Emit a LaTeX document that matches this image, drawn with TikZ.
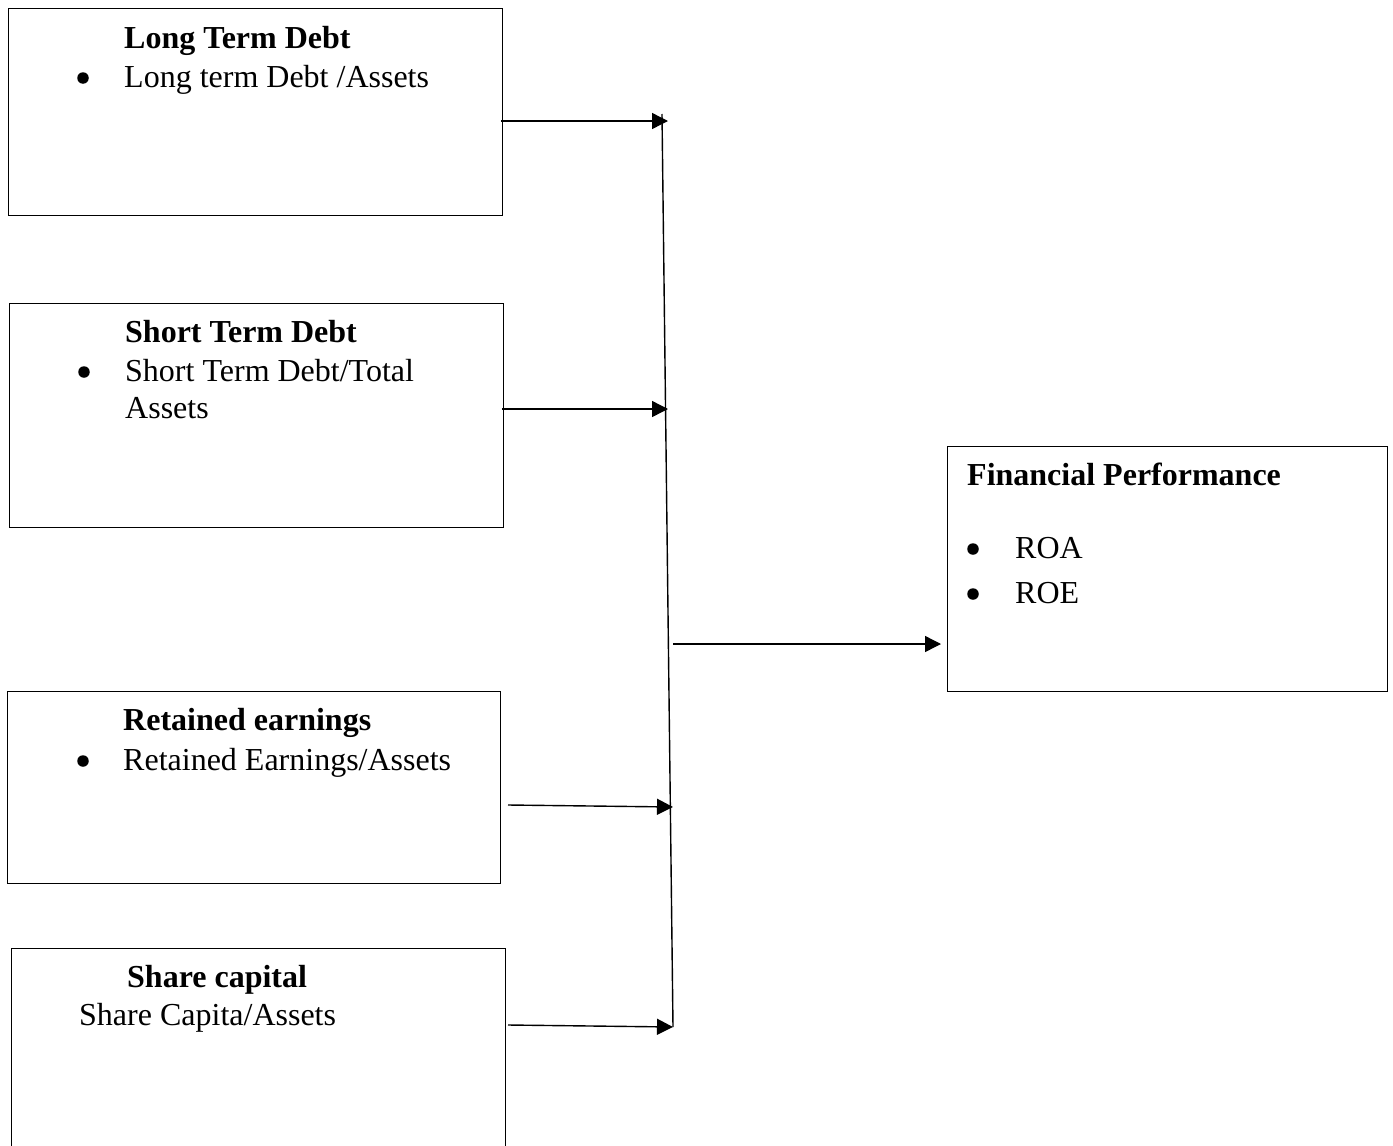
\documentclass[tikz,border=0pt]{standalone}
\usepackage{fontspec}
\setmainfont{Liberation Serif}
\usetikzlibrary{arrows.meta}
\begin{document}
\begin{tikzpicture}[x=1pt,y=-1pt,
  box/.style={draw,line width=1.3pt,inner sep=0pt,anchor=north west},
  txt/.style={anchor=base west,inner sep=0pt,font=\fontsize{32}{38}\selectfont},
  ttl/.style={txt,font=\fontsize{32}{38}\selectfont\bfseries},
  bul/.style={circle,fill=black,inner sep=0pt,minimum size=11.5pt},
  conn/.style={line width=1.4pt,-{Triangle[length=16pt,width=16pt]}},
  trunk/.style={line width=1.4pt}]
\useasboundingbox (0,0) rectangle (1393,1146);
\clip (0,0) rectangle (1393,1146);
\fill[white] (0,0) rectangle (1393,1146);
% boxes
\node[box,minimum width=494,minimum height=207] (b1) at (8,8) {};
\node[box,minimum width=494,minimum height=224] (b2) at (9,303) {};
\node[box,minimum width=493,minimum height=192] (b3) at (7,691) {};
\node[box,minimum width=494,minimum height=260] (b4) at (11,948) {};
\node[box,minimum width=440,minimum height=245] (b5) at (947,446) {};
% texts box 1
\node[ttl] (t1) at (124,48) {Long Term Debt};
\node[bul] (u1) at (83,78) {};
\node[txt] (l1) at (124,87) {Long term Debt /Assets};
% box 2
\node[ttl] (t2) at (125,342) {Short Term Debt};
\node[bul] (u2) at (84,372) {};
\node[txt] (l2a) at (125,381) {Short Term Debt/Total};
\node[txt] (l2b) at (125,418) {Assets};
% box 3
\node[ttl] (t3) at (123,730) {Retained earnings};
\node[bul] (u3) at (83,761) {};
\node[txt] (l3) at (123,770) {Retained Earnings/Assets};
% box 4
\node[ttl] (t4) at (127,987) {Share capital};
\node[txt] (l4) at (79,1025) {Share Capita/Assets};
% box 5
\node[ttl] (t5) at (967,485) {Financial Performance};
\node[bul] (u5a) at (973,549) {};
\node[txt] (l5a) at (1015,558) {ROA};
\node[bul] (u5b) at (973,594) {};
\node[txt] (l5b) at (1015,603) {ROE};
% connector points
\coordinate (s1) at (501,121);
\coordinate (j1) at (668,121);
\coordinate (s2) at (502,409);
\coordinate (j2) at (668,409);
\coordinate (s3) at (508,805);
\coordinate (j3) at (673,807);
\coordinate (s4) at (508,1025);
\coordinate (j4) at (673,1027);
\coordinate (top) at (662,114);
\coordinate (s5) at (673,644);
\coordinate (e5) at (b5.west |- s5);
% trunk
\draw[trunk] (top) -- (j4);
% arrows
\draw[conn] (s1) -- (j1);
\draw[conn] (s2) -- (j2);
\draw[conn] (s3) -- (j3);
\draw[conn] (s4) -- (j4);
\draw[conn,shorten >=6pt] (s5) -- (e5);
\end{tikzpicture}
\end{document}
